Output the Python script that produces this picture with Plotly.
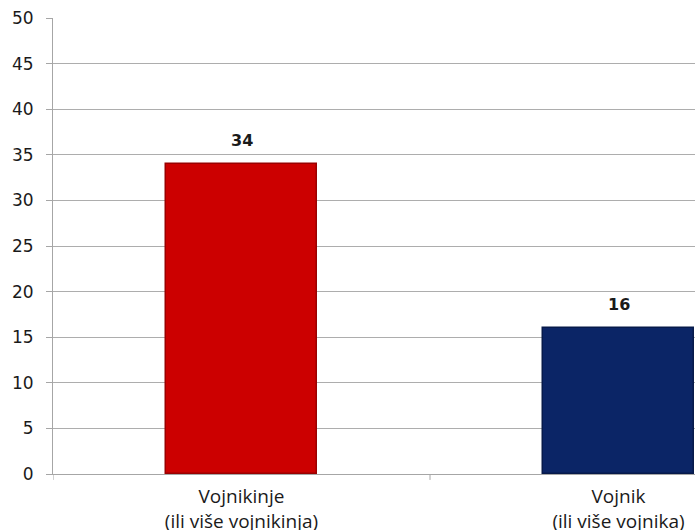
import plotly.graph_objects as go

categories = ["Vojnikinje<br>(ili više vojnikinja)", "Vojnik<br>(ili više vojnika)"]
values = [34, 16]
bar_colors = ["#cc0000", "#0b2566"]
edge_colors = ["#9a0000", "#071a4a"]
y_ticks = list(range(0, 51, 5))

fig = go.Figure()
fig.add_trace(go.Bar(
    x=[0, 1], y=values,
    width=0.4,
    marker=dict(color=bar_colors, line=dict(color=edge_colors, width=1.5)),
    hoverinfo="skip",
))
for i, v in enumerate(values):
    fig.add_annotation(x=i, y=v, text=f"<b>{v}</b>", showarrow=False,
                       yanchor="bottom", yshift=12,
                       font=dict(family="DejaVu Sans", size=16, color="#1a1a1a"))

fig.update_layout(
    width=695, height=530,
    margin=dict(l=53, r=0, t=18, b=56),
    paper_bgcolor="white", plot_bgcolor="white",
    showlegend=False,
    bargap=0,
)
fig.update_xaxes(
    range=[-0.5, -0.5 + (695 - 53) / 377.0],
    tickmode="array", tickvals=[0, 1], ticktext=categories,
    showgrid=False, showline=True, linecolor="#a6a6a6", linewidth=1,
    ticks="", ticklabelstandoff=5, automargin=False,
    tickfont=dict(family="Open Sans", size=19, color="#1a1a1a"),
    zeroline=False,
)
fig.update_yaxes(
    range=[0, 50], tickmode="array", tickvals=y_ticks,
    showgrid=True, gridcolor="#adadad", gridwidth=1,
    showline=True, linecolor="#a6a6a6", linewidth=1,
    ticks="outside", ticklen=6, tickcolor="#a6a6a6",
    ticklabelstandoff=9, automargin=False,
    tickfont=dict(family="DejaVu Sans", size=17, color="#1a1a1a"),
    zeroline=False,
)
# x-axis boundary ticks (between categories)
for b in [-0.5, 0.5]:
    fig.add_shape(type="line", xref="x", yref="paper", x0=b, x1=b, y0=0, y1=-0.013,
                  line=dict(color="#a6a6a6", width=1))

fig.write_html("out.html")
